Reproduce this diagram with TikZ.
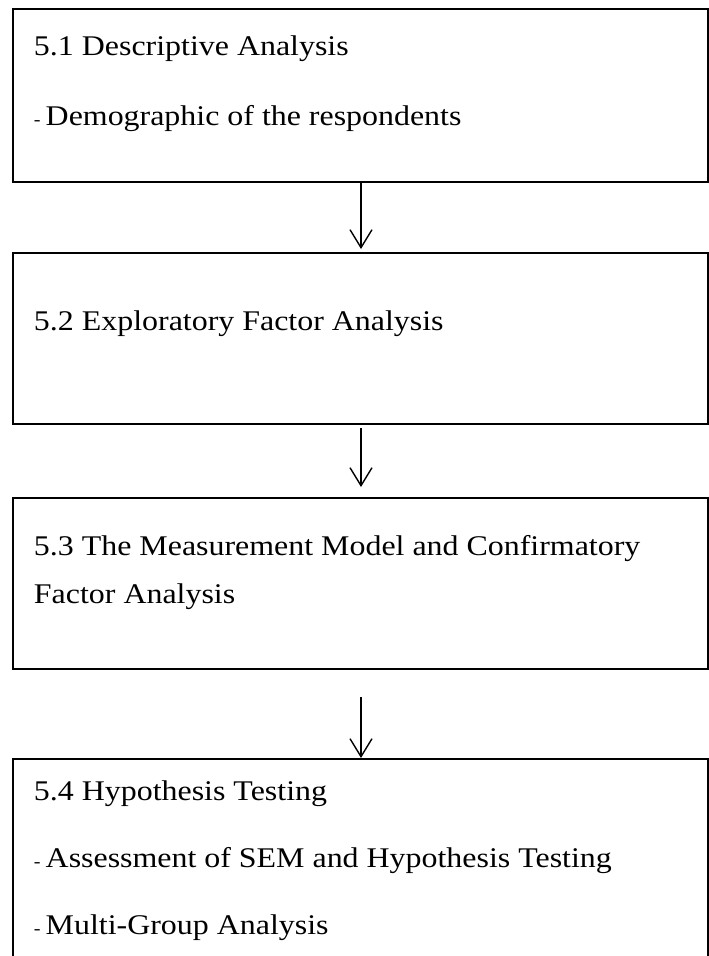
\documentclass[tikz,border=0pt]{standalone}
\usepackage{fontspec}
\setmainfont{Liberation Serif}[FakeStretch=1.12]
\usetikzlibrary{arrows.meta}
\newcommand{\dashitem}{{\fontsize{18}{18}\selectfont -}\hspace{5pt}}
\begin{document}
\begin{tikzpicture}[x=1pt,y=1pt,
  box/.style={draw=black,line width=2pt,minimum width=695pt,inner sep=0pt,outer sep=0pt},
  txt/.style={anchor=base west,inner sep=0pt,outer sep=0pt,font=\fontsize{28.5}{34}\selectfont},
  flow/.style={line width=1.4pt,-{Straight Barb[length=18pt,width=22pt,line width=1.4pt]}}]
\useasboundingbox (0,0) rectangle (709,-956);
\fill[white] (0,0) rectangle (709,-956);
\clip (0,0) rectangle (709,-956);
\node[box,minimum height=173pt] (b1) at (360.2,-95.5) {};
\node[box,minimum height=171pt] (b2) at (360.2,-338.5) {};
\node[box,minimum height=171pt] (b3) at (360.2,-583.5) {};
\node[box,minimum height=260pt] (b4) at (360.2,-889) {};
\node[txt] (t11) at (34,-55) {5.1 Descriptive Analysis};
\node[txt] (t12) at (34,-125) {\dashitem Demographic of the respondents};
\node[txt] (t21) at (34,-330) {5.2 Exploratory Factor Analysis};
\node[txt] (t31) at (34,-555) {5.3 The Measurement Model and Confirmatory};
\node[txt] (t32) at (34,-603) {Factor Analysis};
\node[txt] (t41) at (34,-800) {5.4 Hypothesis Testing};
\node[txt] (t42) at (34,-867) {\dashitem Assessment of SEM and Hypothesis Testing};
\node[txt] (t43) at (34,-934) {\dashitem Multi-Group Analysis};
\draw[flow,shorten >=4pt] ([xshift=0.8pt]b1.south) -- ([xshift=0.8pt]b2.north);
\draw[flow,shorten <=4pt,shorten >=11pt] ([xshift=0.8pt]b2.south) -- ([xshift=0.8pt]b3.north);
\draw[flow,shorten <=28pt,shorten >=1pt] ([xshift=0.8pt]b3.south) -- ([xshift=0.8pt]b4.north);
\end{tikzpicture}
\end{document}
